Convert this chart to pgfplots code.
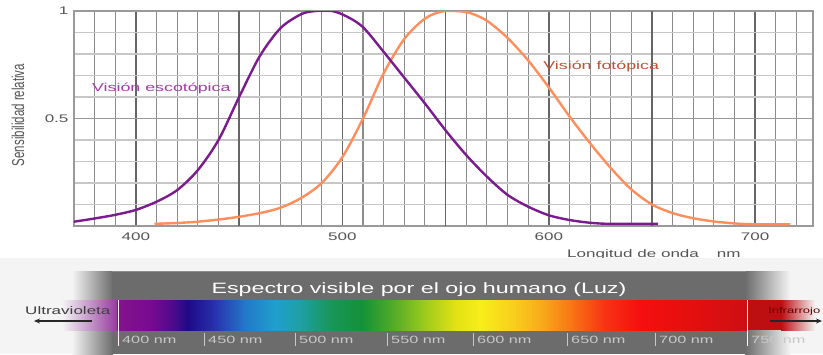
\documentclass[border=0pt]{standalone}
\usepackage{fontspec}
\setmainfont{Liberation Sans}[FakeStretch=1.55]
\newfontfamily\plainfont{Liberation Sans}
\usepackage{graphicx}
\usepackage{pgfplots}
\pgfplotsset{compat=1.18}
\usetikzlibrary{arrows.meta}
\definecolor{scot}{RGB}{122,28,142}
\definecolor{phot}{RGB}{255,142,92}
\definecolor{scottxt}{RGB}{168,60,170}
\definecolor{phottxt}{RGB}{190,82,52}
\definecolor{tick}{RGB}{85,85,85}
\definecolor{bgc}{RGB}{244,244,244}
\definecolor{bandg}{RGB}{108,108,108}
\definecolor{lbl}{RGB}{200,200,200}
% rainbow stops
\definecolor{r0}{RGB}{130,20,140}
\definecolor{r1}{RGB}{120,10,145}
\definecolor{r2}{RGB}{80,10,140}
\definecolor{r3}{RGB}{30,10,135}
\definecolor{r4}{RGB}{40,50,175}
\definecolor{r5}{RGB}{35,120,200}
\definecolor{r6}{RGB}{30,160,205}
\definecolor{r7}{RGB}{30,160,165}
\definecolor{r8}{RGB}{25,150,90}
\definecolor{r9}{RGB}{20,145,55}
\definecolor{r10}{RGB}{80,170,40}
\definecolor{r11}{RGB}{150,200,30}
\definecolor{r12}{RGB}{225,225,20}
\definecolor{r13}{RGB}{248,238,25}
\definecolor{r14}{RGB}{248,205,30}
\definecolor{r15}{RGB}{248,165,25}
\definecolor{r16}{RGB}{248,110,20}
\definecolor{r17}{RGB}{248,50,20}
\definecolor{r18}{RGB}{245,15,15}
\definecolor{r19}{RGB}{225,15,15}
\definecolor{r20}{RGB}{205,15,20}
\newcommand{\seg}[4]{\shade[left color=#3,right color=#4] (#1pt-0.3pt,-300pt) rectangle (#2pt+0.3pt,-330pt);}
\begin{document}
\begin{tikzpicture}
\path[use as bounding box] (0,0) rectangle (823pt,-354pt);
\fill[white] (0,0) rectangle (823pt,-354pt);
\begin{axis}[
  at={(74pt,-226pt)}, anchor=south west,
  scale only axis, width=739pt, height=215pt,
  xmin=370, xmax=728, ymin=0, ymax=1,
  xtick={400,500,600,700},
  extra x ticks={450,550,650},
  extra x tick labels={},
  extra tick style={grid=major},
  minor xtick={380,390,...,720},
  ytick={0.5,1}, yticklabels={0.5,1},
  minor ytick={0.1,0.2,0.3,0.4,0.6,0.7,0.8,0.9},
  grid=both,
  major x grid style={draw=black!60, line width=1.5pt},
  minor x grid style={draw=black!45, line width=1.1pt},
  major y grid style={draw=black!40, line width=1.6pt},
  minor y grid style={draw=black!22, line width=1.6pt},
  tick style={draw=none},
  axis line style={draw=black!40, line width=1.2pt},
  /pgf/number format/assume math mode=true,
  ticklabel style={font=\fontsize{11}{13}\selectfont, text=tick},
  xticklabel style={yshift=-3pt},
  yticklabel style={xshift=-2pt},
]
\addplot[phot, line width=2.4pt, smooth] coordinates {
(409,0.01) (420,0.014) (430,0.02) (440,0.03) (450,0.043) (460,0.06) (470,0.085)
(480,0.13) (490,0.20) (500,0.32) (510,0.50) (520,0.71) (530,0.87) (540,0.965)
(548,0.997) (555,1.0) (562,0.99) (570,0.955) (580,0.875) (590,0.77) (600,0.645)
(610,0.51) (620,0.385) (630,0.27) (640,0.17) (650,0.10) (660,0.06) (670,0.036)
(680,0.021) (690,0.012) (700,0.008) (717,0.008)};
\addplot[scot, line width=2.4pt, smooth] coordinates {
(370,0.02) (380,0.035) (390,0.052) (400,0.075) (410,0.113) (420,0.167)
(430,0.26) (440,0.40) (450,0.60) (460,0.79) (470,0.92) (480,0.985) (487,1.0)
(495,1.0) (502,0.975) (510,0.925) (520,0.81) (530,0.69) (540,0.57) (550,0.445)
(560,0.33) (570,0.23) (580,0.145) (590,0.09) (600,0.05) (610,0.028) (620,0.015)
(630,0.01) (653,0.01)};
\node[anchor=west, text=scottxt, font=\fontsize{11.5}{13}\selectfont, inner sep=0pt] at (axis cs:378.7,0.64) {Visión escotópica};
\node[anchor=west, text=phottxt, font=\fontsize{11.5}{13}\selectfont, inner sep=0pt] at (axis cs:597.3,0.744) {Visión fotópica};
\end{axis}
% y label
\node[text=tick, inner sep=0pt] at (18pt,-115pt) {\scalebox{1.5}[1]{\rotatebox{90}{\plainfont\fontsize{11.5}{13}\selectfont Sensibilidad relativa}}};
% x label (cut by band)
\node[anchor=base west, text=tick, inner sep=0pt, font=\fontsize{11}{13}\selectfont] at (567pt,-257pt) {Longitud de onda\hspace{18pt}nm};
% band background
\fill[bgc] (0,-257.5pt) rectangle (823pt,-354pt);
\shade[left color=bgc, right color=bandg] (72pt,-271pt) rectangle (113pt,-354pt);
\fill[bandg] (112pt,-271pt) rectangle (746pt,-354pt);
\shade[left color=bandg, right color=bgc] (745pt,-271pt) rectangle (790pt,-354pt);
\draw[black!45, line width=1pt] (112pt,-271.5pt) -- (746pt,-271.5pt);
% UV
\shade[left color=bgc, right color=r0!85!white] (62pt,-300pt) rectangle (118pt,-330pt);
% rainbow
\seg{118}{150}{r0}{r1}
\seg{150}{172}{r1}{r2}
\seg{172}{188}{r2}{r3}
\seg{188}{215}{r3}{r4}
\seg{215}{245}{r4}{r5}
\seg{245}{275}{r5}{r6}
\seg{275}{300}{r6}{r7}
\seg{300}{330}{r7}{r8}
\seg{330}{362}{r8}{r9}
\seg{362}{392}{r9}{r10}
\seg{392}{422}{r10}{r11}
\seg{422}{455}{r11}{r12}
\seg{455}{480}{r12}{r13}
\seg{480}{515}{r13}{r14}
\seg{515}{545}{r14}{r15}
\seg{545}{575}{r15}{r16}
\seg{575}{605}{r16}{r17}
\seg{605}{640}{r17}{r18}
\seg{640}{700}{r18}{r19}
\seg{700}{747}{r19}{r20}
% IR
\fill[r20!92!black] (747pt,-300pt) rectangle (782pt,-330pt);
\shade[left color=r20!92!black, right color=bgc] (781pt,-300pt) rectangle (815pt,-330pt);
% separators and ticks
\draw[white!80!pink, line width=0.8pt] (118pt,-300pt) -- (118pt,-346pt);
\draw[white!80!pink, line width=0.8pt] (747pt,-300pt) -- (747pt,-346pt);
\foreach \x in {204,295,387,473,567,655} {
  \draw[lbl, line width=0.8pt] (\x pt,-333pt) -- (\x pt,-346pt);
}
\foreach \x/\t in {118/400,204/450,295/500,387/550,473/600,567/650,655/700,747/750} {
  \node[anchor=west, text=lbl, inner sep=0pt, font=\fontsize{10.5}{12}\selectfont] at (\x pt+4pt,-340pt) {\t\ nm};
}
% title
\node[text=white, inner sep=0pt, font=\fontsize{15}{17}\selectfont] at (419pt,-290pt) {Espectro visible por el ojo humano (Luz)};
% UV / IR labels
\node[anchor=west, text=black!75, inner sep=0pt, font=\fontsize{11}{13}\selectfont] at (25pt,-311pt) {Ultravioleta};
\draw[-{Stealth[length=6pt,width=5pt]}, line width=1.6pt, black!85] (92pt,-321pt) -- (34pt,-321pt);
\node[anchor=west, text=black!60!red, inner sep=0pt, font=\fontsize{8.4}{10}\selectfont] at (768pt,-311pt) {Infrarrojo};
\draw[-{Stealth[length=6pt,width=5pt]}, line width=1.6pt, black!85] (770pt,-321pt) -- (822pt,-321pt);
\end{tikzpicture}
\end{document}
